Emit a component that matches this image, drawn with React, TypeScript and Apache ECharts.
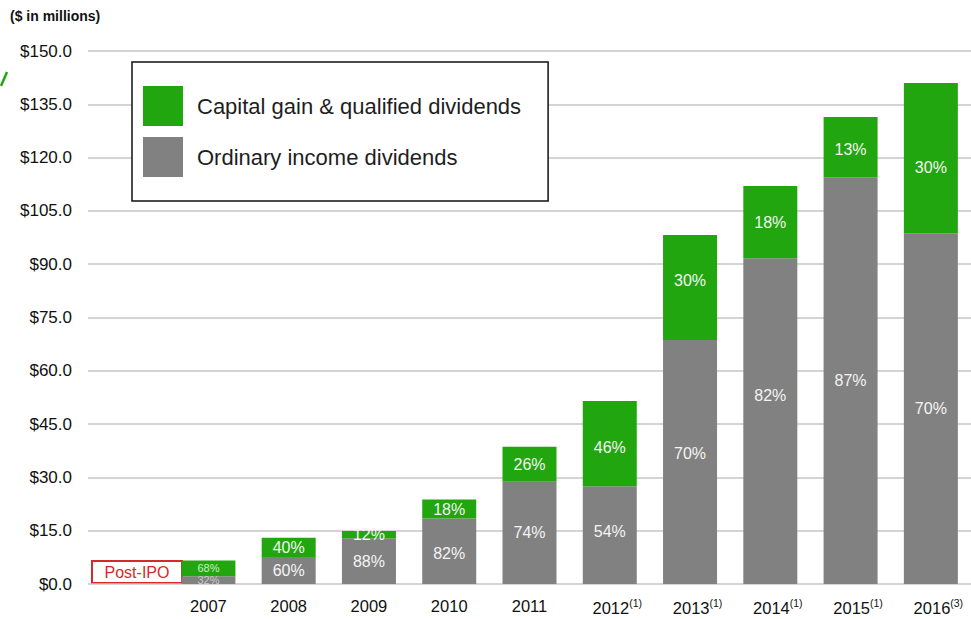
import React, { useEffect, useRef } from "react";
import * as echarts from "echarts";

const years = ["2007", "2008", "2009", "2010", "2011", "2012", "2013", "2014", "2015", "2016"];
const notes = ["", "", "", "", "", "(1)", "(1)", "(1)", "(1)", "(3)"];
const ordinary = [2.2, 7.6, 12.9, 18.4, 28.8, 27.5, 68.7, 91.7, 114.5, 98.7];
const capital = [4.4, 5.4, 2.0, 5.4, 9.8, 24.0, 29.5, 20.3, 16.9, 42.3];
const ordinaryPct = ["32%", "60%", "88%", "82%", "74%", "54%", "70%", "82%", "87%", "70%"];
const capitalPct = ["68%", "40%", "12%", "18%", "26%", "46%", "30%", "18%", "13%", "30%"];
const seriesNames = ["Capital gain & qualified dividends", "Ordinary income dividends"];
const yMin = 0;
const yMax = 150;
const yStep = 15;

const GREEN = "#22a60f";
const GRAY = "#818181";
const FONT = "'Liberation Sans', Arial, sans-serif";

// small per-bar label nudges (pixels) to follow the reference placement
const ordinaryLabelNudge = [0, 0, 0, 2, 0, -4, -8, -26, 0, 0];
const capitalLabelNudge = [0, 0, 0, 0, 0, 4, -7, 0, 2, 9];

export default function App() {
  const ref = useRef<HTMLDivElement>(null);
  useEffect(() => {
    if (!ref.current) return;
    const chart = echarts.init(ref.current, null, { renderer: "svg" });
    const categories = ["", ...years];
    const mk = (vals: number[], nudge: number[], smallColor: string) => [
      "-",
      ...vals.map((v, i) =>
        i === 0
          ? { value: v, label: { fontSize: 11, color: smallColor } }
          : { value: v, label: { offset: [0, nudge[i]] } }
      ),
    ];
    const labelFmt = (pcts: string[]) => (p: any) => pcts[p.dataIndex - 1] ?? "";
    chart.setOption({
      animation: false,
      textStyle: { fontFamily: FONT },
      grid: { left: 88, top: 51, width: 885, bottom: 35, containLabel: false },
      legend: {
        orient: "vertical",
        left: 132,
        top: 62,
        data: seriesNames,
        icon: "rect",
        itemWidth: 40,
        itemHeight: 40,
        itemGap: 11,
        padding: [24, 27, 24, 11],
        borderColor: "#111",
        borderWidth: 1.5,
        backgroundColor: "#fff",
        textStyle: { fontSize: 22, color: "#1e1e1e", fontFamily: FONT, padding: [0, 0, 0, 9] },
        selectedMode: false,
      },
      xAxis: {
        type: "category",
        data: categories,
        axisLine: { show: false },
        axisTick: { show: false },
        axisLabel: {
          interval: 0,
          margin: 13,
          formatter: (v: string) => {
            if (!v) return "";
            const n = notes[years.indexOf(v)];
            return n ? `{p| }{y|${v}}{s|${n}}` : `{y|${v}}`;
          },
          rich: {
            y: { fontSize: 16.5, color: "#111", fontFamily: FONT },
            s: { fontSize: 10.5, color: "#111", fontFamily: FONT, padding: [0, 0, 10, 0] },
            p: { width: 15, fontSize: 10 },
          },
        },
      },
      yAxis: {
        type: "value",
        min: yMin,
        max: yMax,
        interval: yStep,
        axisLine: { show: false },
        axisTick: { show: false },
        splitLine: { lineStyle: { color: "#c6c6c6", width: 1.5 } },
        axisLabel: {
          margin: 16,
          fontSize: 17,
          color: "#111",
          fontFamily: FONT,
          formatter: (v: number) => "$" + v.toFixed(1),
        },
      },
      series: [
        {
          name: seriesNames[1],
          type: "bar",
          stack: "total",
          barWidth: 54,
          itemStyle: { color: GRAY },
          data: mk(ordinary, ordinaryLabelNudge, "#c9c9c9"),
          label: {
            show: true,
            position: "inside",
            color: "#f4f4f4",
            fontSize: 16,
            fontFamily: FONT,
            formatter: labelFmt(ordinaryPct),
          },
        },
        {
          name: seriesNames[0],
          type: "bar",
          stack: "total",
          barWidth: 54,
          itemStyle: { color: GREEN },
          data: mk(capital, capitalLabelNudge, "#cfeac8"),
          label: {
            show: true,
            position: "inside",
            color: "#f4f4f4",
            fontSize: 16,
            fontFamily: FONT,
            formatter: labelFmt(capitalPct),
          },
        },
      ],
      graphic: [
        {
          type: "text",
          left: 10,
          top: 9,
          style: { text: "($ in millions)", font: `bold 14px ${FONT}`, fill: "#111" },
        },
        {
          type: "rect",
          shape: { x: 92, y: 561, width: 90, height: 22 },
          style: { fill: "#fff", stroke: "#d42a2a", lineWidth: 2 },
        },
        {
          type: "text",
          x: 137,
          y: 572,
          style: {
            text: "Post-IPO",
            font: `16px ${FONT}`,
            fill: "#d42a2a",
            align: "center",
            verticalAlign: "middle",
          },
        },
        {
          type: "line",
          shape: { x1: 1, y1: 86, x2: 7, y2: 72 },
          style: { stroke: GREEN, lineWidth: 2.5 },
        },
      ],
    });
    return () => chart.dispose();
  }, []);
  return (
    <div
      ref={ref}
      style={{ position: "fixed", left: 0, top: 0, width: 971, height: 619, background: "#fff" }}
    />
  );
}
